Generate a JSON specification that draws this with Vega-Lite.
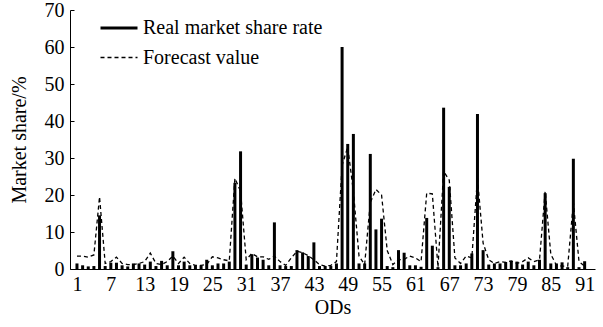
{
  "$schema": "https://vega.github.io/schema/vega-lite/v6.json",
  "width": 525,
  "height": 259,
  "autosize": {"type": "none"},
  "padding": {"left": 70, "top": 10, "right": 8, "bottom": 58},
  "background": "white",
  "config": {
    "view": {"stroke": null},
    "font": "Liberation Serif",
    "legend": {
      "labelFont": "Liberation Serif",
      "labelFontSize": 20,
      "labelColor": "black",
      "labelLimit": 0
    }
  },
  "resolve": {"axis": {"y": "independent"}},
  "data": {
    "values": [
      {"od": 1, "real": 1.5, "forecast": 3.5},
      {"od": 2, "real": 1.0, "forecast": 3.5},
      {"od": 3, "real": 0.7, "forecast": 3.2},
      {"od": 4, "real": 0.8, "forecast": 3.8},
      {"od": 5, "real": 14.5, "forecast": 19.5},
      {"od": 6, "real": 0.8, "forecast": 1.5},
      {"od": 7, "real": 1.7, "forecast": 2.0},
      {"od": 8, "real": 1.7, "forecast": 3.2},
      {"od": 9, "real": 1.0, "forecast": 1.5},
      {"od": 10, "real": 0.7, "forecast": 1.2},
      {"od": 11, "real": 1.5, "forecast": 1.2},
      {"od": 12, "real": 1.5, "forecast": 1.5},
      {"od": 13, "real": 1.2, "forecast": 2.0},
      {"od": 14, "real": 2.0, "forecast": 4.3},
      {"od": 15, "real": 0.8, "forecast": 1.5},
      {"od": 16, "real": 2.2, "forecast": 1.2},
      {"od": 17, "real": 1.0, "forecast": 2.0},
      {"od": 18, "real": 4.8, "forecast": 3.5},
      {"od": 19, "real": 1.0, "forecast": 1.5},
      {"od": 20, "real": 2.0, "forecast": 3.2},
      {"od": 21, "real": 1.0, "forecast": 1.5},
      {"od": 22, "real": 1.0, "forecast": 1.0},
      {"od": 23, "real": 1.0, "forecast": 1.0},
      {"od": 24, "real": 2.5, "forecast": 1.2},
      {"od": 25, "real": 1.0, "forecast": 3.3},
      {"od": 26, "real": 1.5, "forecast": 3.0},
      {"od": 27, "real": 1.5, "forecast": 2.5},
      {"od": 28, "real": 2.0, "forecast": 2.2},
      {"od": 29, "real": 23.3, "forecast": 24.5},
      {"od": 30, "real": 31.8, "forecast": 21.0},
      {"od": 31, "real": 1.2, "forecast": 2.5},
      {"od": 32, "real": 4.0, "forecast": 4.2},
      {"od": 33, "real": 3.1, "forecast": 3.3},
      {"od": 34, "real": 2.5, "forecast": 3.3},
      {"od": 35, "real": 1.0, "forecast": 2.6},
      {"od": 36, "real": 12.6, "forecast": 3.5},
      {"od": 37, "real": 1.0, "forecast": 2.0},
      {"od": 38, "real": 0.8, "forecast": 1.0},
      {"od": 39, "real": 0.8, "forecast": 3.0},
      {"od": 40, "real": 5.1, "forecast": 4.8},
      {"od": 41, "real": 4.5, "forecast": 4.4},
      {"od": 42, "real": 3.5, "forecast": 3.6},
      {"od": 43, "real": 7.2, "forecast": 2.5},
      {"od": 44, "real": 0.8, "forecast": 1.2},
      {"od": 45, "real": 0.8, "forecast": 0.8},
      {"od": 46, "real": 0.8, "forecast": 1.0},
      {"od": 47, "real": 1.5, "forecast": 2.0},
      {"od": 48, "real": 60.0, "forecast": 28.0},
      {"od": 49, "real": 33.8, "forecast": 33.0},
      {"od": 50, "real": 36.5, "forecast": 21.0},
      {"od": 51, "real": 1.5, "forecast": 3.5},
      {"od": 52, "real": 1.5, "forecast": 1.2},
      {"od": 53, "real": 31.1, "forecast": 18.0},
      {"od": 54, "real": 10.7, "forecast": 21.5},
      {"od": 55, "real": 13.6, "forecast": 20.0},
      {"od": 56, "real": 0.8, "forecast": 5.0},
      {"od": 57, "real": 0.5, "forecast": 1.2},
      {"od": 58, "real": 5.1, "forecast": 2.5},
      {"od": 59, "real": 4.4, "forecast": 2.6},
      {"od": 60, "real": 1.0, "forecast": 3.5},
      {"od": 61, "real": 1.0, "forecast": 3.0},
      {"od": 62, "real": 0.6, "forecast": 2.0},
      {"od": 63, "real": 13.8, "forecast": 20.5},
      {"od": 64, "real": 6.3, "forecast": 20.3},
      {"od": 65, "real": 0.5, "forecast": 0.5},
      {"od": 66, "real": 43.6, "forecast": 26.4},
      {"od": 67, "real": 22.2, "forecast": 24.0},
      {"od": 68, "real": 1.0, "forecast": 3.0},
      {"od": 69, "real": 1.0, "forecast": 1.5},
      {"od": 70, "real": 1.5, "forecast": 3.5},
      {"od": 71, "real": 4.2, "forecast": 3.0},
      {"od": 72, "real": 41.9, "forecast": 24.6},
      {"od": 73, "real": 5.1, "forecast": 7.0},
      {"od": 74, "real": 1.2, "forecast": 2.5},
      {"od": 75, "real": 1.5, "forecast": 1.5},
      {"od": 76, "real": 1.5, "forecast": 2.0},
      {"od": 77, "real": 1.9, "forecast": 1.8},
      {"od": 78, "real": 2.2, "forecast": 2.2},
      {"od": 79, "real": 2.0, "forecast": 1.5},
      {"od": 80, "real": 1.2, "forecast": 2.0},
      {"od": 81, "real": 2.0, "forecast": 3.0},
      {"od": 82, "real": 1.0, "forecast": 2.0},
      {"od": 83, "real": 2.5, "forecast": 2.5},
      {"od": 84, "real": 20.5, "forecast": 21.0},
      {"od": 85, "real": 1.5, "forecast": 4.0},
      {"od": 86, "real": 1.5, "forecast": 1.0},
      {"od": 87, "real": 1.8, "forecast": 0.8},
      {"od": 88, "real": 0.5, "forecast": 0.8},
      {"od": 89, "real": 29.8, "forecast": 18.0},
      {"od": 90, "real": 0.5, "forecast": 2.0},
      {"od": 91, "real": 2.1, "forecast": 0.8}
    ]
  },
  "encoding": {
    "x": {
      "field": "od",
      "type": "quantitative",
      "title": "ODs",
      "scale": {"domain": [0.65, 91.95], "nice": false, "zero": false},
      "axis": {
        "values": [1, 7, 13, 19, 25, 31, 37, 43, 49, 55, 61, 67, 73, 79, 85, 91],
        "ticks": false,
        "grid": false,
        "labelFont": "Liberation Serif",
        "titleFont": "Liberation Serif",
        "labelFontSize": 20,
        "titleFontSize": 20,
        "titleFontWeight": "normal",
        "labelColor": "black",
        "titleColor": "black",
        "domainColor": "black",
        "labelOverlap": false,
        "labelPadding": 5,
        "titlePadding": 3,
        "labelFlush": false
      }
    }
  },
  "layer": [
    {
      "mark": {"type": "bar", "color": "black", "size": 3},
      "encoding": {
        "y": {
          "field": "real",
          "type": "quantitative",
          "title": "Market share/%",
          "scale": {"domain": [0, 70], "nice": false},
          "axis": {
            "values": [0, 10, 20, 30, 40, 50, 60, 70],
            "grid": false,
            "labelFont": "Liberation Serif",
            "titleFont": "Liberation Serif",
            "labelFontSize": 20,
            "titleFontSize": 20,
            "titleFontWeight": "normal",
            "labelColor": "black",
            "titleColor": "black",
            "domainColor": "black",
            "tickColor": "black",
            "labelOverlap": false,
            "tickSize": -4,
            "labelPadding": 10,
            "titlePadding": 15
          }
        }
      }
    },
    {
      "mark": {"type": "line", "color": "black", "interpolate": "linear"},
      "encoding": {
        "y": {"field": "forecast", "type": "quantitative", "axis": null},
        "strokeDash": {
          "datum": "Forecast value",
          "scale": {
            "domain": ["Real market share rate", "Forecast value"],
            "range": [[1, 0], [4, 3]]
          },
          "legend": {
            "orient": "none",
            "legendX": 29,
            "legendY": -2,
            "title": null,
            "symbolType": "stroke",
            "symbolSize": 1369,
            "symbolStrokeColor": "black",
            "labelOffset": 4,
            "rowPadding": -13
          }
        },
        "strokeWidth": {
          "datum": "Forecast value",
          "scale": {
            "domain": ["Real market share rate", "Forecast value"],
            "range": [3, 1.3]
          },
          "legend": null
        }
      }
    }
  ]
}
